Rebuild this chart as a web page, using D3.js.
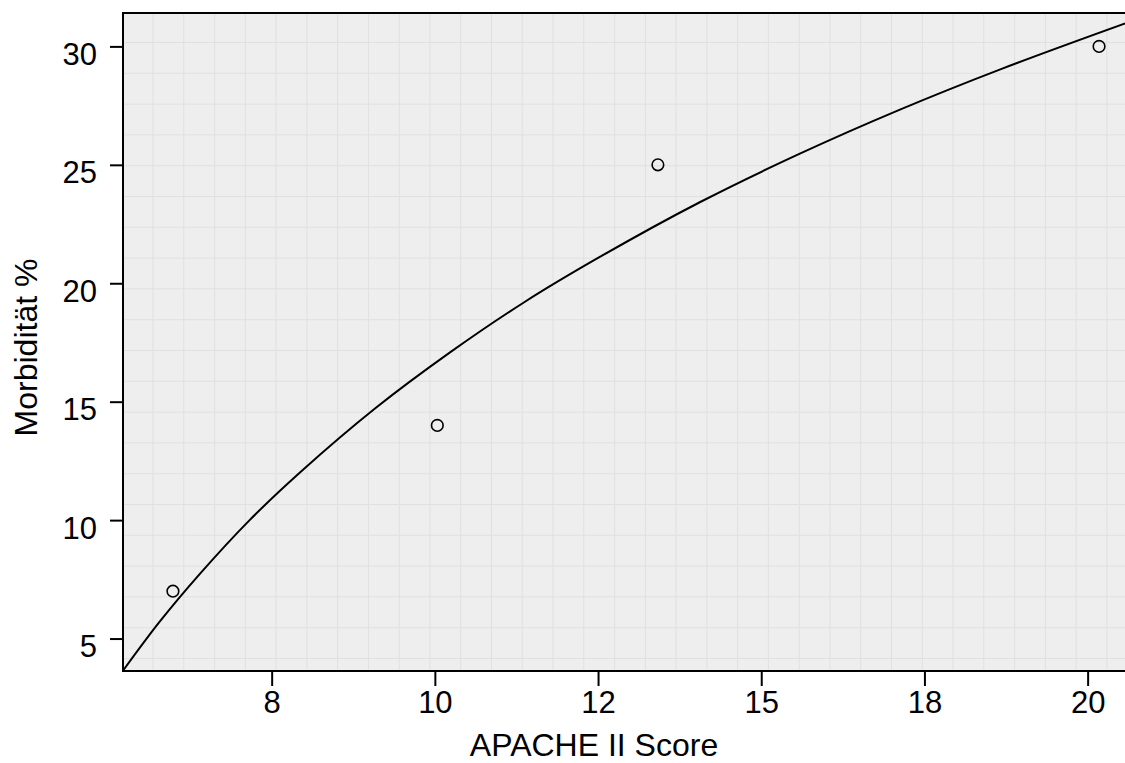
<!DOCTYPE html>
<html>
<head>
<meta charset="utf-8">
<script src="https://cdn.jsdelivr.net/npm/d3@7"></script>
<style>
  body { margin: 0; background: #fff; }
  svg { display: block; font-family: "Liberation Sans", Arial, sans-serif; }
</style>
</head>
<body>
<div id="chart"></div>
<script>
// Data
const xTicks = [8, 10, 12, 15, 18, 20];
const yTicks = [5, 10, 15, 20, 25, 30];

// observed points: APACHE II score vs. morbidity %
const pointX = [6.79, 10.03, 13.10, 20.14];
const pointY = [7.0, 14.0, 25.0, 30.0];

// fitted curve, sampled along the line in the picture
const curveX = [6.18, 6.63, 7.12, 7.73, 8.35, 9.27, 10.19, 11.10, 12.04, 13.87, 15.71, 17.55, 18.93, 20.46];
const curveY = [3.65, 5.72, 7.73, 10.00, 12.02, 14.72, 17.09, 19.21, 21.12, 23.42, 25.47, 27.33, 29.03, 30.97];

// Dimensions
const margin = { top: 13, right: 0, bottom: 92, left: 123 },
    width = 1125 - margin.left - margin.right,
    height = 763 - margin.top - margin.bottom;

const svg = d3.select('#chart')
    .append('svg')
        .attr('width', width + margin.left + margin.right)
        .attr('height', height + margin.top + margin.bottom);

const g = svg.append('g')
    .attr('transform', `translate(${margin.left},${margin.top})`);

// Scales. Ticks sit at even steps along the axis, so x is piecewise linear.
const slot = d3.scaleLinear().domain([-0.911, 5.229]).range([0, width]);
const x = d3.scaleLinear().domain(xTicks).range(xTicks.map((d, i) => slot(i)));
const y = d3.scaleLinear().domain([3.63, 31.41]).range([height, 0]);

// Panel + paper grid
g.append('rect')
    .attr('width', width + 4)
    .attr('height', height)
    .attr('fill', '#eeeeee');

const grid = g.append('g').attr('stroke', '#e0e0e0').attr('stroke-width', 1);
grid.selectAll('.gv')
    .data(d3.range(30, width, 30.77))
    .join('line')
        .attr('x1', d => d).attr('x2', d => d)
        .attr('y1', 0).attr('y2', height);
grid.selectAll('.gh')
    .data(d3.range(29.5, height, 30.8))
    .join('line')
        .attr('y1', d => d).attr('y2', d => d)
        .attr('x1', 0).attr('x2', width);

// Curve
const line = d3.line()
    .x(d => x(d[0]))
    .y(d => y(d[1]))
    .curve(d3.curveCatmullRom);

g.append('path')
    .datum(d3.zip(curveX, curveY))
    .attr('fill', 'none')
    .attr('stroke', '#000')
    .attr('stroke-width', 2)
    .attr('d', line);

// Points
g.append('g')
    .selectAll('circle')
    .data(d3.zip(pointX, pointY))
    .join('circle')
        .attr('cx', d => x(d[0]))
        .attr('cy', d => y(d[1]))
        .attr('r', 5.8)
        .attr('fill', 'none')
        .attr('stroke', '#000')
        .attr('stroke-width', 1.6);

// Panel border (left, top, bottom)
g.append('path')
    .attr('d', `M${width + 4},0H0V${height}H${width + 4}`)
    .attr('fill', 'none')
    .attr('stroke', '#000')
    .attr('stroke-width', 2);

// Axes
const xAxis = g.append('g')
    .attr('transform', `translate(0,${height})`)
    .call(d3.axisBottom(x).tickValues(xTicks).tickSize(15).tickSizeOuter(0).tickFormat(d3.format('d')));
xAxis.select('.domain').remove();
xAxis.selectAll('line').attr('stroke-width', 2);
xAxis.selectAll('text')
    .attr('font-size', 31)
    .attr('fill', '#000')
    .attr('dy', null)
    .attr('y', 42);

const yAxis = g.append('g')
    .call(d3.axisLeft(y).tickValues(yTicks).tickSize(13).tickSizeOuter(0));
yAxis.select('.domain').remove();
yAxis.selectAll('line').attr('stroke-width', 2);
yAxis.selectAll('text')
    .attr('font-size', 31)
    .attr('fill', '#000')
    .attr('dy', null)
    .attr('x', -26)
    .attr('y', 18);

// Titles
svg.append('text')
    .attr('x', 594)
    .attr('y', 756)
    .attr('text-anchor', 'middle')
    .attr('font-size', 32)
    .text('APACHE II Score');

svg.append('text')
    .attr('transform', 'translate(36.5,347.5) rotate(-90)')
    .attr('text-anchor', 'middle')
    .attr('font-size', 32)
    .text('Morbidität %');
</script>
</body>
</html>
